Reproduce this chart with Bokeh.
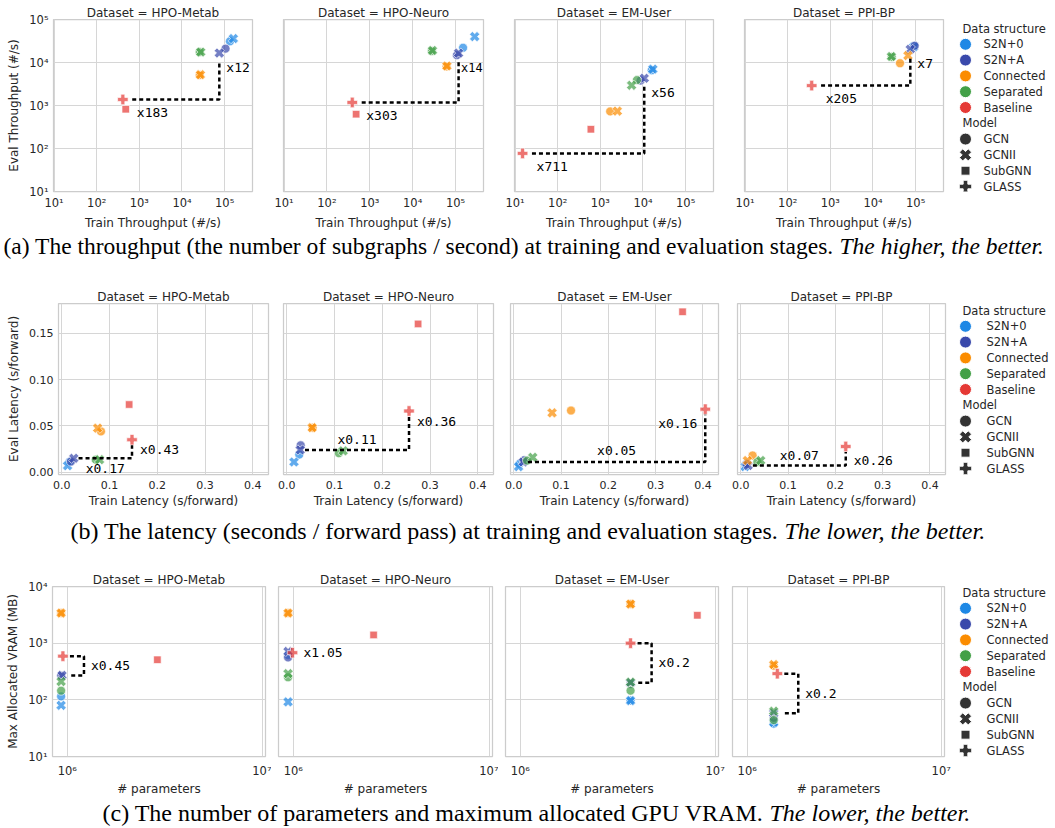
import math
from bokeh.plotting import figure
from bokeh.layouts import column, row
from bokeh.models import ColumnDataSource, Range1d, FixedTicker, CustomJSTickFormatter, Label
from bokeh.core.properties import value, field
from bokeh.embed import file_html
from bokeh.resources import INLINE

nan = float("nan")

# ---------------- data ----------------
datasets = ["HPO-Metab", "HPO-Neuro", "EM-User", "PPI-BP"]
structures = ["S2N+0", "S2N+A", "Connected", "Separated", "Baseline"]
models = ["GCN", "GCNII", "SubGNN", "GLASS"]
point_struct = ["S2N+0", "S2N+0", "S2N+A", "S2N+A", "Connected", "Connected",
                "Separated", "Separated", "Baseline", "Baseline"]
point_model = ["GCN", "GCNII", "GCN", "GCNII", "GCN", "GCNII", "GCN", "GCNII", "SubGNN", "GLASS"]

# (a) throughput, subgraphs / second
thr_train = [
    [133000, 160000, 105000, 75000, 26000, 27000, 26000, 27500, 480, 410],
    [150000, 280000, 108000, 118000, 62000, 63000, 28000, 29000, 480, 390],
    [16000, 17000, 8800, 10700, 1700, 2500, 7200, 5400, 600, 15],
    [92000, 90000, 95000, 75000, 43000, 66000, 27500, 27000, nan, 365],
]
thr_eval = [
    [31000, 36000, 21000, 16600, 5100, 5200, 17500, 17500, 820, 1380],
    [22000, 40000, 14800, 16500, 8100, 8300, 18500, 19000, 630, 1180],
    [6600, 7000, 3800, 4300, 730, 740, 3900, 2950, 280, 77],
    [24000, 23000, 24500, 20300, 9600, 14500, 13500, 13800, nan, 2900],
]
thr_ratio_train = [183, 303, 711, 205]
thr_ratio_eval = [12, 14, 56, 7]

# (b) latency, seconds / forward pass
lat_train = [
    [0.016, 0.012, 0.019, 0.025, 0.082, 0.075, 0.071, 0.079, 0.141, 0.147],
    [0.026, 0.015, 0.029, 0.028, 0.054, 0.053, 0.109, 0.118, 0.275, 0.256],
    [0.012, 0.010, 0.022, 0.020, 0.121, 0.081, 0.028, 0.040, 0.357, 0.405],
    [0.010, 0.009, 0.012, 0.0155, 0.025, 0.014, 0.035, 0.042, nan, 0.222],
]
lat_eval = [
    [0.011, 0.007, 0.0115, 0.015, 0.044, 0.0475, 0.0135, 0.0135, 0.073, 0.035],
    [0.019, 0.011, 0.029, 0.024, 0.048, 0.048, 0.0205, 0.023, 0.160, 0.066],
    [0.009, 0.006, 0.013, 0.011, 0.0665, 0.064, 0.0125, 0.016, 0.173, 0.068],
    [0.0075, 0.006, 0.009, 0.0072, 0.018, 0.0126, 0.011, 0.0126, nan, 0.0277],
]
lat_ratio_train = ["0.17", "0.11", "0.05", "0.07"]
lat_ratio_eval = ["0.43", "0.36", "0.16", "0.26"]

# (c) parameters and max allocated VRAM (MB)
mem_params = [
    [9.3e5, 9.3e5, 9.3e5, 9.4e5, 9.3e5, 9.3e5, 9.3e5, 9.3e5, 2.9e6, 9.5e5],
    [9.4e5, 9.4e5, 9.4e5, 9.4e5, 9.4e5, 9.4e5, 9.4e5, 9.4e5, 2.57e6, 9.9e5],
    [3.68e6, 3.68e6, 3.68e6, 3.68e6, 3.68e6, 3.68e6, 3.68e6, 3.68e6, 8.1e6, 3.68e6],
    [1.37e6, 1.37e6, 1.37e6, 1.37e6, 1.37e6, 1.37e6, 1.37e6, 1.37e6, nan, 1.43e6],
]
mem_vram = [
    [115, 80, 265, 270, 3400, 3400, 145, 210, 510, 590],
    [620, 92, 560, 714, 3400, 3400, 250, 290, 1400, 680],
    [97, 97, 190, 200, 4900, 4900, 145, 205, 3100, 1000],
    [38, 40, 48, 58, 400, 420, 44, 63, nan, 290],
]
mem_ratio = ["0.45", "1.05", "0.2", "0.2"]

BEST = 3      # S2N+A / GCNII
BASE = 9      # Baseline / GLASS

# ---------------- style ----------------
struct_colors = ["#1E88E5", "#3949AB", "#FB8C00", "#43A047", "#E53935"]
model_markers = ["circle", "plus", "square", "plus"]
model_angles = [0.0, math.pi / 4, 0.0, 0.0]
model_sizes = [9, 10.5, 7.5, 10.5]
legend_model_sizes = [12, 12.5, 9, 12.5]
TXT = "#262626"
FONT = "DejaVu Sans"
MONO = "DejaVu Sans Mono"
SERIF = "Liberation Serif"
TOTAL_W = 1050

LOG_CODE = """
const sup = {'0':'\u2070','1':'\u00b9','2':'\u00b2','3':'\u00b3','4':'\u2074',
             '5':'\u2075','6':'\u2076','7':'\u2077','8':'\u2078','9':'\u2079','-':'\u207b'};
const e = Math.round(Math.log10(tick));
return '10' + String(e).split('').map(c => sup[c]).join('');
"""


def style_axis(ax, label, ticks, fmt_code, s1, s2, tick_size):
    ax.axis_label = label
    ax.axis_label_text_font = FONT
    ax.axis_label_text_font_size = "12px"
    ax.axis_label_text_font_style = "normal"
    ax.axis_label_text_color = TXT
    ax.axis_label_standoff = s2
    ax.major_label_text_font = FONT
    ax.major_label_text_font_size = tick_size
    ax.major_label_text_color = TXT
    ax.major_label_standoff = s1
    ax.axis_line_color = None
    ax.major_tick_line_color = None
    ax.minor_tick_line_color = None
    ax.major_tick_out = 0
    ax.major_tick_in = 0
    ax.minor_tick_out = 0
    ax.minor_tick_in = 0
    ax.ticker = FixedTicker(ticks=ticks)
    ax.formatter = CustomJSTickFormatter(code=fmt_code)


class Geom:
    def __init__(self, xr, yr, xt, yt, fw, fh):
        self.xr, self.yr, self.xt, self.yt, self.fw, self.fh = xr, yr, xt, yt, fw, fh

    @staticmethod
    def _frac(v, r, t):
        if t == "log":
            return (math.log10(v) - math.log10(r[0])) / (math.log10(r[1]) - math.log10(r[0]))
        return (v - r[0]) / (r[1] - r[0])

    def sx(self, v):
        return self._frac(v, self.xr, self.xt) * self.fw

    def sy(self, v):
        return self._frac(v, self.yr, self.yt) * self.fh


def panel(di, g, left, right, top, bottom, xlabel, ylabel, xticks, yticks, xfmt, yfmt,
          xs, ys, xs1, xs2, tick_size):
    p = figure(width=left + g.fw + right, height=top + g.fh + bottom,
               x_range=Range1d(*g.xr), y_range=Range1d(*g.yr),
               x_axis_type=g.xt, y_axis_type=g.yt, title="Dataset = " + datasets[di],
               min_border_left=left, min_border_right=right, min_border_top=top,
               min_border_bottom=bottom, toolbar_location=None, tools="", output_backend="svg")
    p.background_fill_color = "white"
    p.border_fill_color = "white"
    p.outline_line_color = "#cccccc"
    p.outline_line_width = 1.25
    p.title.align = "center"
    p.title.text_font = FONT
    p.title.text_font_size = "12px"
    p.title.text_font_style = "normal"
    p.title.text_color = TXT
    p.title.standoff = 0
    style_axis(p.xaxis[0], xlabel, xticks, xfmt, xs1, xs2, tick_size)
    style_axis(p.yaxis[0], ylabel, yticks, yfmt, 5, 5, tick_size)
    p.xgrid.ticker = FixedTicker(ticks=xticks)
    p.ygrid.ticker = FixedTicker(ticks=yticks)
    p.grid.grid_line_color = "#d6d6d6"
    p.grid.grid_line_width = 1
    if ylabel is None:
        p.yaxis.visible = False
    d = dict(x=[], y=[], color=[], marker=[], angle=[], size=[])
    for k in range(len(point_struct)):
        x, y = xs[di][k], ys[di][k]
        if math.isnan(x) or math.isnan(y):
            continue
        si = structures.index(point_struct[k])
        mi = models.index(point_model[k])
        d["x"].append(x)
        d["y"].append(y)
        d["color"].append(struct_colors[si])
        d["marker"].append(model_markers[mi])
        d["angle"].append(model_angles[mi])
        d["size"].append(model_sizes[mi])
    p.scatter(x="x", y="y", source=ColumnDataSource(d), marker=field("marker"), angle="angle",
              size="size", fill_color="color", fill_alpha=0.7, line_color="white",
              line_width=0.8, line_alpha=0.8)
    return p


def ratio_label(p, g, x, y, text, xo, yo, align="left"):
    # frame-relative screen placement; keep the text inside the frame (labels are clipped there)
    size = 13.0
    sx, sy = g.sx(x), g.sy(y)
    if align == "left":
        room = g.fw - 1 - sx
        width = len(text) * 0.602 * size
        if xo + width > room:
            xo = max(2.5, room - width)
            if xo + width > room:
                size = (room - xo) / (len(text) * 0.602)
    p.add_layout(Label(x=sx, y=sy, x_units="screen", y_units="screen", text=text,
                       x_offset=xo, y_offset=yo, text_font=MONO,
                       text_font_size="%.1fpx" % size,
                       text_color="black", text_baseline="middle", text_align=align))


def dashed(p, xs, ys):
    p.line(xs, ys, line_color="black", line_width=2.5, line_dash="4 3")


def legend_fig(width, height, top_b, bottom_b, tx, mx, lx, top, step):
    p = figure(width=width, height=height, x_range=Range1d(0, width),
               y_range=Range1d(height - bottom_b, top_b), x_axis_type=None, y_axis_type=None,
               min_border_left=0, min_border_right=0, min_border_top=top_b,
               min_border_bottom=bottom_b, toolbar_location=None, tools="", output_backend="svg")
    p.outline_line_color = None
    p.background_fill_color = "white"
    tkw = dict(text_font=value(FONT), text_font_size="11.5px", text_baseline="middle",
               text_align="left", text_color=TXT)
    ys = [top + step * (i + 1) for i in range(len(structures))]
    p.text(x=[tx], y=[top], text=["Data structure"], **tkw)
    p.scatter(x=[mx] * len(structures), y=ys, marker="circle", size=12,
              fill_color=struct_colors, line_color="white", line_width=1)
    p.text(x=[lx] * len(structures), y=ys, text=structures, **tkw)
    ym0 = top + step * (len(structures) + 1)
    p.text(x=[tx], y=[ym0], text=["Model"], **tkw)
    ym = [ym0 + step * (j + 1) for j in range(len(models))]
    p.scatter(x=[mx] * len(models), y=ym, marker=model_markers, angle=model_angles,
              size=legend_model_sizes, fill_color="#333333", line_color="white", line_width=1)
    p.text(x=[lx] * len(models), y=ym, text=models, **tkw)
    return p


def caption_fig(height, x0, xi, yc, normal, italic, size="24px"):
    p = figure(width=TOTAL_W, height=height, x_range=Range1d(0, TOTAL_W),
               y_range=Range1d(height, 0), x_axis_type=None, y_axis_type=None, min_border=0,
               toolbar_location=None, tools="", output_backend="svg")
    p.outline_line_color = None
    kw = dict(text_font=value(SERIF), text_font_size=size, text_baseline="middle",
              text_align="left", text_color="black")
    p.text(x=[x0], y=[yc], text=[normal], **kw)
    p.text(x=[xi], y=[yc], text=[italic], text_font_style="italic", **kw)
    return p


# ---------------- row (a): throughput ----------------
r1_fw = [199, 200, 199, 199]
r1_left = [53, 15, 16, 16]
r1_right = [16, 15, 15, 15]
row1 = []
for di in range(4):
    g = Geom((9.7, 4.5e5), (10, 1e5), "log", "log", r1_fw[di], 172)
    p = panel(di, g, r1_left[di], r1_right[di], 19, 41,
              "Train Throughput (#/s)", "Eval Throughput (#/s)" if di == 0 else None,
              [10, 100, 1e3, 1e4, 1e5], [10, 100, 1e3, 1e4, 1e5], LOG_CODE, LOG_CODE,
              thr_train, thr_eval, 4, 3, "11.5px")
    bx, by = thr_train[di][BASE], thr_eval[di][BASE]
    sx, sy = thr_train[di][BEST], thr_eval[di][BEST]
    top_y = sy / 10 ** 0.2
    dashed(p, [bx * 10 ** 0.22, sx, sx], [by, by, top_y])
    ratio_label(p, g, bx, by, "x%d" % thr_ratio_train[di], 14, -13)
    ratio_label(p, g, sx, top_y, "x%d" % thr_ratio_eval[di], 7, -6)
    row1.append(p)
row1.append(legend_fig(92, 232, 19, 41, 4, 7, 25, 28, 15.8))

# ---------------- row (b): latency ----------------
r2_fw = [210, 210, 208, 208]
r2_left = [58, 8, 9, 10]
r2_right = [7, 8, 9, 8]
lat_train_dy = [-10, 10, 11, 10]
lat_eval_frac = [0.71, 0.84, 0.81, 0.39]
lat_eval_side = [1, 1, -1, 1]
row2 = []
for di in range(4):
    g = Geom((-0.007, 0.433), (-0.0025, 0.182), "linear", "linear", r2_fw[di], 171)
    p = panel(di, g, r2_left[di], r2_right[di], 23, 38,
              "Train Latency (s/forward)", "Eval Latency (s/forward)" if di == 0 else None,
              [0, 0.1, 0.2, 0.3, 0.4], [0, 0.05, 0.1, 0.15],
              "return tick.toFixed(1);", "return tick.toFixed(2);", lat_train, lat_eval,
              6, 2, "11px")
    bx, by = lat_train[di][BASE], lat_eval[di][BASE]
    sx, sy = lat_train[di][BEST], lat_eval[di][BEST]
    x_start = sx + 0.01
    top_y = by - 0.006
    dashed(p, [x_start, bx, bx], [sy, sy, top_y])
    ratio_label(p, g, (x_start + bx) / 2, sy, "x" + lat_ratio_train[di], 0,
                lat_train_dy[di], "center")
    side = lat_eval_side[di]
    ratio_label(p, g, bx, sy + lat_eval_frac[di] * (top_y - sy), "x" + lat_ratio_eval[di],
                8 * side, 0, "left" if side > 0 else "right")
    row2.append(p)
row2.append(legend_fig(97, 232, 23, 38, 9, 12, 33, 30, 15.8))

# ---------------- row (c): memory ----------------
r3_fw = [213, 214, 213, 212]
r3_left = [52, 7, 7, 7]
r3_right = [6, 6, 7, 9]
mem_bracket = [True, False, True, True]
row3 = []
for di in range(4):
    g = Geom((8.4e5, 1.04e7), (10, 1e4), "log", "log", r3_fw[di], 170)
    p = panel(di, g, r3_left[di], r3_right[di], 26, 44, "# parameters",
              "Max Allocated VRAM (MB)" if di == 0 else None,
              [1e6, 1e7], [10, 100, 1e3, 1e4], LOG_CODE, LOG_CODE, mem_params, mem_vram,
              7, 1, "11.5px")
    gx, gy = mem_params[di][BASE], mem_vram[di][BASE]
    sy = mem_vram[di][BEST]
    xa, xb = gx * 10 ** 0.036, gx * 10 ** 0.108
    if mem_bracket[di]:
        dashed(p, [xa, xb, xb, xa], [gy, gy, sy, sy])
        ratio_label(p, g, xb, math.sqrt(gy * sy), "x" + mem_ratio[di], 7, 0)
    else:
        ratio_label(p, g, gx, math.sqrt(gy * sy), "x" + mem_ratio[di], 11, 0)
    row3.append(p)
row3.append(legend_fig(97, 240, 26, 44, 9, 12, 33, 32, 15.8))

cap_a = caption_fig(48, 3, 839, 13,
                    "(a) The throughput (the number of subgraphs / second) at training and evaluation stages.",
                    "The higher, the better.", "23.5px")
cap_b = caption_fig(48, 70, 784, 18,
                    "(b) The latency (seconds / forward pass) at training and evaluation stages.",
                    "The lower, the better.")
cap_c = caption_fig(26, 102, 769, 12,
                    "(c) The number of parameters and maximum allocated GPU VRAM.",
                    "The lower, the better.")

layout = column(row(*row1), cap_a, row(*row2), cap_b, row(*row3), cap_c)

with open("out.html", "w") as f:
    f.write(file_html(layout, INLINE))
